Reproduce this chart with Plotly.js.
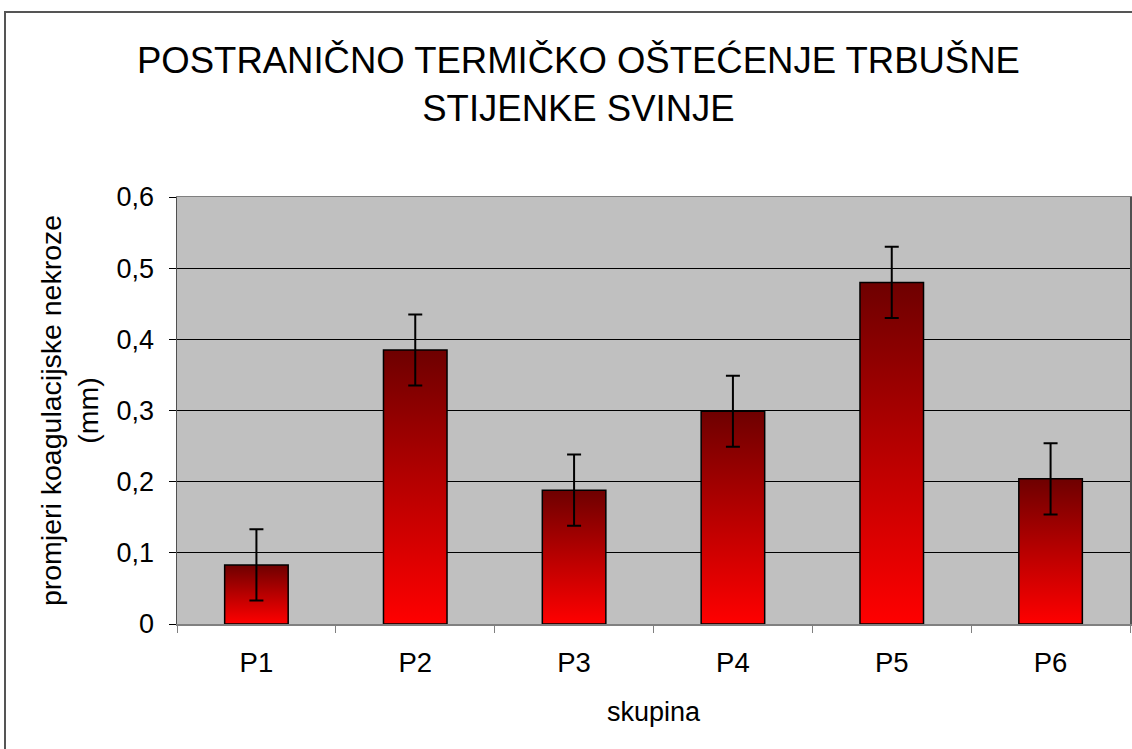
<!DOCTYPE html>
<html><head><meta charset="utf-8">
<script src="https://cdn.plot.ly/plotly-3.0.1.min.js"></script>
<style>
html,body{margin:0;padding:0;background:#fff;overflow:hidden;}
#chart{width:1132px;height:749px;}
#frame{position:absolute;left:4px;top:11px;width:1200px;height:800px;border-left:2px solid #555;border-top:2px solid #555;pointer-events:none;}
</style></head>
<body>
<div id="chart"></div>
<div id="frame"></div>
<script>
const categories = ['P1','P2','P3','P4','P5','P6'];
const values = [0.083, 0.385, 0.188, 0.299, 0.480, 0.204];
const errors = [0.05, 0.05, 0.05, 0.05, 0.05, 0.05];
const yTicks = [0, 0.1, 0.2, 0.3, 0.4, 0.5, 0.6];
const yTickText = ['0', '0,1', '0,2', '0,3', '0,4', '0,5', '0,6'];

const font = 'Liberation Sans, Arial, sans-serif';
const data = [{
  type: 'bar', x: categories, y: values,
  marker: {color: '#b00000', line: {color: '#000', width: 1.5}},
  error_y: {type: 'data', array: errors, visible: true, color: '#000', thickness: 2, width: 7},
  width: 0.4, hoverinfo: 'none'
}];
const layout = {
  width: 1132, height: 749,
  margin: {l: 177, r: 2, t: 197, b: 125},
  paper_bgcolor: 'rgba(0,0,0,0)', plot_bgcolor: '#c0c0c0',
  separators: ',.',
  showlegend: false,
  font: {family: font, color: '#000', size: 27},
  title: {text: 'POSTRANIČNO TERMIČKO OŠTEĆENJE TRBUŠNE<br>STIJENKE SVINJE',
          font: {size: 36.5, family: font, color: '#000'}, x: 0.511, xanchor: 'center', y: 0.902, yanchor: 'middle'},
  xaxis: {type: 'category', tickson: 'boundaries', ticks: 'outside', ticklen: 7, tickcolor: '#808080',
          showline: true, linecolor: '#808080', linewidth: 1.5, mirror: true, showgrid: false,
          ticklabelstandoff: 13,
          tickfont: {size: 27.5}, title: {text: 'skupina', font: {size: 27}, standoff: 25}},
  yaxis: {range: [0, 0.6], tickvals: yTicks, ticktext: yTickText, ticks: 'outside', ticklen: 7, tickcolor: '#000',
          showline: true, linecolor: '#505050', linewidth: 1.5, mirror: true,
          gridcolor: '#000', gridwidth: 1, zeroline: false,
          ticklabelstandoff: 9,
          tickfont: {size: 27},
          title: {text: 'promjeri koagulacijske nekroze<br>(mm)', font: {size: 28.5}, standoff: 9}}
};
Plotly.newPlot('chart', data, layout, {displayModeBar: false, staticPlot: true}).then(function(gd){
  const svg = gd.querySelector('svg.main-svg');
  const ns = 'http://www.w3.org/2000/svg';
  let defs = svg.querySelector('defs');
  const lg = document.createElementNS(ns, 'linearGradient');
  lg.setAttribute('id', 'barGrad');
  lg.setAttribute('x1', '0'); lg.setAttribute('y1', '0');
  lg.setAttribute('x2', '0'); lg.setAttribute('y2', '1');
  [['0%', '#6e0000'], ['50%', '#b80000'], ['100%', '#ff0000']].forEach(function(s){
    const st = document.createElementNS(ns, 'stop');
    st.setAttribute('offset', s[0]); st.setAttribute('stop-color', s[1]);
    lg.appendChild(st);
  });
  defs.appendChild(lg);
  gd.querySelectorAll('.barlayer .point path').forEach(function(p){
    p.style.fill = 'url(#barGrad)';
  });
});
</script>
</body></html>
